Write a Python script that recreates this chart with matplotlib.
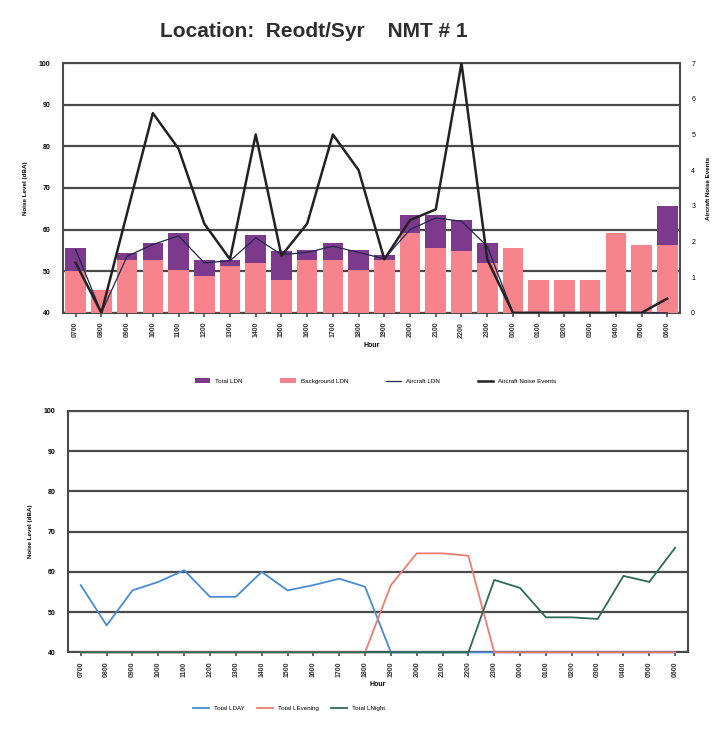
import numpy as np
import matplotlib.pyplot as plt

plt.rcParams['font.family'] = ['Liberation Sans', 'DejaVu Sans']

# hours of the day
hours = ['0700', '0800', '0900', '1000', '1100', '1200', '1300', '1400',
         '1500', '1600', '1700', '1800', '1900', '2000', '2100', '2200',
         '2300', '0000', '0100', '0200', '0300', '0400', '0500', '0600']

# top chart (dBA)
total_ldn = [55.6, 45.6, 54.4, 56.8, 59.2, 52.8, 52.8, 58.8, 54.8, 55.2, 56.8, 55.2,
             54.0, 63.6, 63.6, 62.4, 56.8, 55.6, 48.0, 48.0, 48.0, 59.2, 56.4, 65.6]
background_ldn = [50.0, 45.6, 52.8, 52.8, 50.4, 48.8, 51.2, 52.0, 48.0, 52.8, 52.8, 50.4,
                  52.8, 59.2, 55.6, 54.8, 52.0, 55.6, 48.0, 48.0, 48.0, 59.2, 56.4, 56.4]
aircraft_ldn = [55.2, 40.0, 53.6, 56.4, 58.5, 52.0, 52.5, 58.0, 54.0, 54.5, 56.0, 54.5,
                53.0, 60.0, 62.8, 62.0, 56.0, 40.0, 40.0, 40.0, 40.0, 40.0, 40.0, 40.0]
noise_events = [1.4, 0.0, 2.8, 5.6, 4.6, 2.5, 1.5, 5.0, 1.6, 2.5, 5.0, 4.0,
                1.5, 2.6, 2.9, 7.0, 1.5, 0.0, 0.0, 0.0, 0.0, 0.0, 0.0, 0.4]

# bottom chart (dBA)
total_lday = [56.7, 46.7, 55.4, 57.5, 60.4, 53.8, 53.8, 60.0, 55.4, 56.7, 58.3, 56.3,
              40, 40, 40, 40, 40, 40, 40, 40, 40, 40, 40, 40]
total_levening = [40, 40, 40, 40, 40, 40, 40, 40, 40, 40, 40, 40,
                  56.7, 64.6, 64.6, 64.0, 40, 40, 40, 40, 40, 40, 40, 40]
total_lnight = [40, 40, 40, 40, 40, 40, 40, 40, 40, 40, 40, 40,
                40, 40, 40, 40, 58.0, 56.0, 48.7, 48.7, 48.3, 59.0, 57.5, 66.0]

x = np.arange(len(hours))
grid_c = '#4a4a4a'

fig = plt.figure(figsize=(7.22, 7.43), dpi=100)
fig.text(0.435, 0.957, 'Location:  Reodt/Syr    NMT # 1', ha='center', va='center',
         fontsize=15, fontweight='bold', color='#2e2e2e')


def style_axis(ax):
    ax.set_xlim(-0.5, len(hours) - 0.5)
    ax.set_ylim(40, 100)
    ax.set_yticks(np.arange(40, 101, 10))
    ax.yaxis.grid(True, color=grid_c, linewidth=1.6)
    ax.set_axisbelow(True)
    ax.set_xticks(x)
    ax.set_xticklabels(hours, rotation=90, fontsize=5, fontweight='bold', color='#333333')
    ax.tick_params(axis='y', labelsize=5, length=0, pad=9)
    ax.tick_params(axis='x', length=3, width=1.2, color=grid_c)
    for t in ax.get_yticklabels():
        t.set_fontweight('bold')
    for s in ax.spines.values():
        s.set_color(grid_c)
        s.set_linewidth(1.5)
    ax.set_xlabel('Hour', fontsize=5, fontweight='bold', labelpad=3)
    ax.set_ylabel('Noise Level (dBA)', fontsize=4.5, fontweight='bold', labelpad=8)


# top chart
ax1 = fig.add_axes([0.087, 0.579, 0.855, 0.336])
style_axis(ax1)
ax1.bar(x, np.array(total_ldn) - 40, bottom=40, width=0.8, color='#7d3a8c',
        label='Total LDN', zorder=2)
ax1.bar(x, np.array(background_ldn) - 40, bottom=40, width=0.8, color='#f7838c',
        label='Background LDN', zorder=3)
ax1.plot(x, aircraft_ldn, color='#1f2650', linewidth=0.9, label='Aircraft LDN', zorder=4)
ax2 = ax1.twinx()
ax2.set_ylim(0, 7)
ax2.set_yticks(np.arange(0, 8))
ax2.tick_params(axis='y', labelsize=5, length=0, pad=8)
ax2.plot(x, noise_events, color='#222222', linewidth=1.8, label='Aircraft Noise Events', zorder=5)
ax2.set_ylabel('Aircraft Noise Events', fontsize=4.5, fontweight='bold', labelpad=8)
for s in ax2.spines.values():
    s.set_visible(False)

h1, l1 = ax1.get_legend_handles_labels()
h2, l2 = ax2.get_legend_handles_labels()
handles = [h1[1], h1[2], h1[0]] + h2
labels = [l1[1], l1[2], l1[0]] + l2
fig.legend(handles, labels, loc='center', bbox_to_anchor=(0.52, 0.487), ncol=4,
           frameon=False, fontsize=4.5, columnspacing=6, handlelength=2.5)

# bottom chart
ax3 = fig.add_axes([0.094, 0.122, 0.859, 0.325])
style_axis(ax3)
ax3.plot(x, total_lday, color='#4a8ad6', linewidth=1.3, label='Total LDAY', clip_on=False, zorder=4)
ax3.plot(x, total_levening, color='#ee7d72', linewidth=1.3, label='Total LEvening', clip_on=False, zorder=4)
ax3.plot(x, total_lnight, color='#2e6b55', linewidth=1.3, label='Total LNight', clip_on=False, zorder=4)
fig.legend(*ax3.get_legend_handles_labels(), loc='center', bbox_to_anchor=(0.4, 0.047),
           ncol=3, frameon=False, fontsize=4.5, columnspacing=2, handlelength=2.5)

fig.savefig('out.png', dpi=100)
